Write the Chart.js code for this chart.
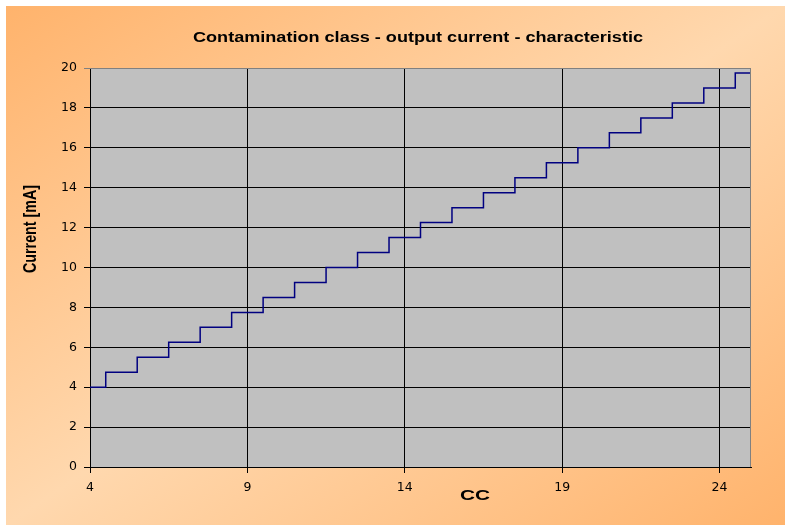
<!DOCTYPE html>
<html>
<head>
<meta charset="utf-8">
<script src="https://cdn.jsdelivr.net/npm/chart.js@4"></script>
<style>
html,body{margin:0;padding:0;background:#fff;}
#wrap{width:785px;height:527px;}
</style>
</head>
<body>
<div id="wrap"><canvas id="c" width="785" height="527"></canvas></div>
<script>
// Data
const ccClasses = [4,5,6,7,8,9,10,11,12,13,14,15,16,17,18,19,20,21,22,23,24,25];
const currentMA = [4,4.75,5.5,6.25,7,7.75,8.5,9.25,10,10.75,11.5,12.25,13,13.75,14.5,15.25,16,16.75,17.5,18.25,19,19.75];
const xTickValues = [4,9,14,19,24];
const yTickValues = [0,2,4,6,8,10,12,14,16,18,20];
const chartTitle = 'Contamination class - output current - characteristic';
const xTitle = 'CC';
const yTitle = 'Current [mA]';

function fitText(ctx, text, cx, cy, targetWidth) {
  const w = ctx.measureText(text).width;
  const sx = targetWidth / w;
  ctx.save();
  ctx.translate(cx, cy);
  ctx.scale(sx, 1);
  ctx.fillText(text, 0, 0);
  ctx.restore();
}

const bgPlugin = {
  id: 'bgPlugin',
  beforeDraw(chart) {
    const ctx = chart.ctx, a = chart.chartArea;
    ctx.save();
    ctx.fillStyle = '#ffffff';
    ctx.fillRect(0, 0, chart.width, chart.height);
    ctx.translate(6, 6);
    ctx.scale(779, 519);
    const g = ctx.createLinearGradient(0, 0, 1, 1);
    g.addColorStop(0, '#FFB36C');
    g.addColorStop(0.5, '#FFD8AE');
    g.addColorStop(1, '#FFB36C');
    ctx.fillStyle = g;
    ctx.fillRect(0, 0, 1, 1);
    ctx.restore();
    ctx.save();
    ctx.fillStyle = '#C0C0C0';
    ctx.fillRect(a.left, a.top, a.right - a.left, a.bottom - a.top);
    ctx.restore();
  },
  afterDraw(chart) {
    const ctx = chart.ctx, a = chart.chartArea;
    ctx.save();
    ctx.strokeStyle = '#808080';
    ctx.lineWidth = 1;
    ctx.beginPath();
    ctx.moveTo(a.left, a.top + 0.5);
    ctx.lineTo(a.right - 0.5, a.top + 0.5);
    ctx.lineTo(a.right - 0.5, a.bottom);
    ctx.stroke();
    ctx.fillStyle = '#000';
    ctx.textAlign = 'center';
    ctx.textBaseline = 'middle';
    ctx.font = 'bold 14px "Liberation Sans", Arial, sans-serif';
    fitText(ctx, chartTitle, 418, 38, 450);
    ctx.font = 'bold 14px "Liberation Sans", Arial, sans-serif';
    fitText(ctx, xTitle, 475, 496, 30);
    ctx.translate(31, 229);
    ctx.rotate(-Math.PI / 2);
    ctx.font = 'bold 18px "Liberation Sans Narrow", "Liberation Sans", Arial, sans-serif';
    fitText(ctx, yTitle, 0, 0, 88);
    ctx.restore();
  }
};

new Chart(document.getElementById('c'), {
  type: 'line',
  data: {
    datasets: [{
      data: ccClasses.map((c, i) => ({x: c, y: currentMA[i]})),
      stepped: 'middle',
      borderColor: '#000080',
      borderWidth: 1.5,
      pointRadius: 0,
      fill: false
    }]
  },
  options: {
    responsive: false,
    devicePixelRatio: 1,
    animation: false,
    layout: {padding: {left: 0, top: 68, right: 34, bottom: 0}},
    plugins: {legend: {display: false}, title: {display: false}, tooltip: {enabled: false}},
    scales: {
      x: {
        type: 'linear',
        min: 4, max: 25,
        afterBuildTicks(s) { s.ticks = xTickValues.map(v => ({value: v})); },
        afterFit(s) { s.height = 60; },
        grid: {color: '#000', lineWidth: 1, tickLength: 6, drawOnChartArea: true},
        border: {display: true, color: '#000', width: 1},
        ticks: {color: '#000', padding: 7, font: {family: '"DejaVu Sans", Arial, sans-serif', size: 12.5}, maxRotation: 0}
      },
      y: {
        min: 0, max: 20,
        afterBuildTicks(s) { s.ticks = yTickValues.map(v => ({value: v})); },
        afterFit(s) { s.width = 90; },
        grid: {color: ctx => (ctx.tick && ctx.tick.value === 20) ? '#808080' : '#000', lineWidth: 1, tickLength: 6},
        border: {display: true, color: '#000', width: 1},
        ticks: {color: '#000', padding: 7, font: {family: '"DejaVu Sans", Arial, sans-serif', size: 12.5}}
      }
    }
  },
  plugins: [bgPlugin]
});
</script>
</body>
</html>
